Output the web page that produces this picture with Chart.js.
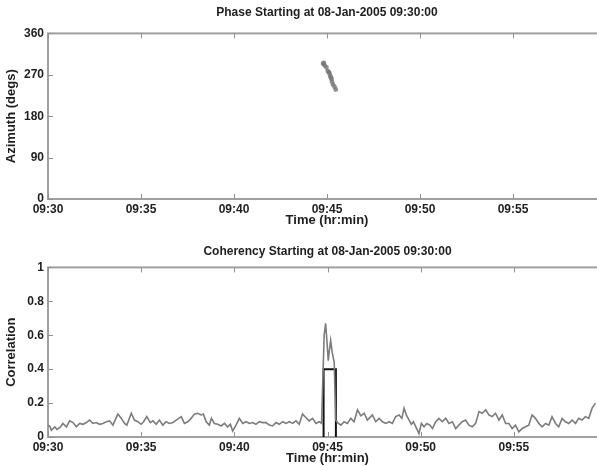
<!DOCTYPE html>
<html>
<head>
<meta charset="utf-8">
<script src="https://cdn.jsdelivr.net/npm/chart.js@4.4.1/dist/chart.umd.min.js"></script>
<style>
body { margin: 0; width: 597px; height: 466px; overflow: hidden; background: #fff; }
canvas { position: absolute; left: 0; }
</style>
</head>
<body>
<canvas id="phaseChart" width="610" height="233" style="top:0px"></canvas>
<canvas id="cohChart" width="610" height="233" style="top:233px"></canvas>
<script>
// Time axis (minutes after 09:30)
var timeTicks = [0, 5, 10, 15, 20, 25, 30];
var timeLabels = ['09:30', '09:35', '09:40', '09:45', '09:50', '09:55', ''];

// Phase (azimuth) points
var phaseTimes = [14.79, 14.83, 14.88, 14.97, 15.04, 15.10, 15.13, 15.18, 15.21, 15.24, 15.27, 15.32, 15.40, 15.47];
var phaseAzimuth = [294, 296, 290, 286, 278, 276, 273, 267, 264, 261, 255, 249, 244, 238];

// Coherency trace
var cohTimes = [0, 0.09, 0.18, 0.36, 0.48, 0.63, 0.80, 0.99, 1.16, 1.34, 1.52, 1.70, 1.88, 2.06, 2.23, 2.41, 2.59, 2.77, 2.95, 3.13,
  3.31, 3.48, 3.75, 3.93, 4.11, 4.23, 4.47, 4.64, 4.82, 5.00, 5.13, 5.30, 5.49, 5.63, 5.81, 5.98, 6.16, 6.34, 6.52, 6.70,
  6.88, 7.15, 7.32, 7.50, 7.68, 7.86, 8.04, 8.22, 8.34, 8.49, 8.66, 8.77, 8.93, 9.11, 9.29, 9.47, 9.64, 9.79, 9.91, 10.09,
  10.27, 10.45, 10.63, 10.81, 10.98, 11.16, 11.34, 11.52, 11.70, 11.88, 12.05, 12.24, 12.41, 12.59, 12.77, 12.95, 13.13, 13.31, 13.48, 13.66,
  13.84, 14.02, 14.20, 14.38, 14.56, 14.68, 14.82, 14.90, 14.98, 15.04, 15.09, 15.17, 15.25, 15.36, 15.44, 15.54, 15.72, 15.89, 16.07, 16.25,
  16.43, 16.61, 16.79, 16.97, 17.14, 17.32, 17.41, 17.59, 17.77, 17.95, 18.13, 18.31, 18.48, 18.66, 18.84, 18.99, 19.11, 19.23, 19.38, 19.50,
  19.61, 19.74, 19.91, 20.04, 20.18, 20.33, 20.49, 20.63, 20.81, 20.98, 21.16, 21.34, 21.52, 21.70, 21.88, 22.05, 22.23, 22.41, 22.59, 22.77,
  22.95, 23.13, 23.30, 23.49, 23.66, 23.84, 24.02, 24.20, 24.38, 24.56, 24.73, 24.91, 25.09, 25.27, 25.45, 25.63, 25.80, 25.98, 26.16, 26.34,
  26.52, 26.70, 26.88, 27.05, 27.24, 27.41, 27.59, 27.77, 27.95, 28.13, 28.31, 28.48, 28.66, 28.84, 29.02, 29.20, 29.38];
var cohValues = [0.07, 0.065, 0.04, 0.06, 0.045, 0.055, 0.08, 0.06, 0.095, 0.085, 0.06, 0.08, 0.075, 0.085, 0.10, 0.08, 0.085, 0.075, 0.08, 0.09,
  0.095, 0.07, 0.135, 0.11, 0.08, 0.07, 0.14, 0.10, 0.09, 0.075, 0.09, 0.12, 0.085, 0.095, 0.075, 0.10, 0.07, 0.09, 0.08, 0.085,
  0.10, 0.12, 0.08, 0.09, 0.11, 0.135, 0.14, 0.13, 0.135, 0.09, 0.07, 0.11, 0.08, 0.075, 0.065, 0.08, 0.06, 0.075, 0.035, 0.07,
  0.11, 0.08, 0.09, 0.08, 0.085, 0.075, 0.09, 0.085, 0.085, 0.07, 0.065, 0.085, 0.075, 0.09, 0.08, 0.09, 0.08, 0.095, 0.075, 0.135,
  0.115, 0.095, 0.11, 0.08, 0.09, 0.08, 0.60, 0.67, 0.55, 0.45, 0.50, 0.57, 0.50, 0.44, 0.10, 0.085, 0.07, 0.09, 0.08, 0.11,
  0.09, 0.16, 0.125, 0.14, 0.10, 0.12, 0.13, 0.09, 0.11, 0.09, 0.08, 0.09, 0.08, 0.12, 0.13, 0.11, 0.17, 0.13, 0.10, 0.075,
  0.09, 0.06, 0.02, 0.08, 0.06, 0.08, 0.07, 0.05, 0.09, 0.11, 0.09, 0.11, 0.08, 0.09, 0.05, 0.07, 0.09, 0.10, 0.07, 0.06,
  0.08, 0.15, 0.14, 0.16, 0.13, 0.12, 0.14, 0.10, 0.13, 0.08, 0.08, 0.05, 0.07, 0.03, 0.05, 0.06, 0.07, 0.13, 0.11, 0.08,
  0.06, 0.08, 0.07, 0.12, 0.08, 0.06, 0.11, 0.09, 0.08, 0.10, 0.08, 0.11, 0.10, 0.12, 0.11, 0.17, 0.20];

// Detection window (black box)
var boxTimes = [14.79, 14.79, 15.45, 15.45];
var boxValues = [0, 0.4, 0.4, 0];

var fontFamily = "'Liberation Sans', Arial, sans-serif";
var textColor = '#1e1e1e';
var titleFont = { family: fontFamily, size: 12, weight: 'bold' };
var labelFont = { family: fontFamily, size: 13, weight: 'bold' };
var tickFont = { family: fontFamily, size: 12, weight: 'bold' };

function toPoints(xs, ys) {
  return xs.map(function (x, i) { return { x: x, y: ys[i] }; });
}

// Matlab style box with inward tick marks
var framePlugin = {
  id: 'frame',
  beforeDatasetsDraw: function (chart) {
    var ctx = chart.ctx, a = chart.chartArea, sx = chart.scales.x, sy = chart.scales.y;
    ctx.save();
    ctx.strokeStyle = '#a0a0a0';
    ctx.lineWidth = 2;
    ctx.strokeRect(a.left, a.top, a.right - a.left, a.bottom - a.top);
    ctx.lineWidth = 1;
    ctx.strokeStyle = '#909090';
    ctx.beginPath();
    sx.ticks.forEach(function (t) {
      var px = Math.round(sx.getPixelForValue(t.value)) + 0.5;
      ctx.moveTo(px, a.bottom); ctx.lineTo(px, a.bottom - 5);
      ctx.moveTo(px, a.top); ctx.lineTo(px, a.top + 5);
    });
    sy.ticks.forEach(function (t) {
      var py = Math.round(sy.getPixelForValue(t.value)) + 0.5;
      ctx.moveTo(a.left, py); ctx.lineTo(a.left + 5, py);
      ctx.moveTo(a.right, py); ctx.lineTo(a.right - 5, py);
    });
    ctx.stroke();
    ctx.restore();
  }
};

function timeAxis(height, titleBottom) {
  return {
    type: 'linear', min: 0, max: 30,
    afterFit: function (s) { s.height = height; },
    afterBuildTicks: function (s) { s.ticks = timeTicks.map(function (v) { return { value: v }; }); },
    grid: { display: false, drawTicks: false },
    border: { display: false },
    ticks: {
      autoSkip: false, maxRotation: 0, padding: 3, color: textColor, font: tickFont,
      callback: function (v) { return timeLabels[timeTicks.indexOf(v)]; }
    },
    title: { display: true, text: 'Time (hr:min)', color: textColor, font: labelFont, padding: { top: 0, bottom: titleBottom } }
  };
}

function valueAxis(min, max, step, text) {
  return {
    min: min, max: max,
    afterFit: function (s) { s.width = 48; },
    grid: { display: false, drawTicks: false },
    border: { display: false },
    ticks: {
      stepSize: step, padding: 4, color: textColor, font: tickFont,
      callback: function (v) { return String(Math.round(v * 10) / 10); }
    },
    title: { display: true, text: text, color: textColor, font: labelFont, padding: { top: 4, bottom: 2 } }
  };
}

function titleOpts(text, top, bottom) {
  return { display: true, text: text, fullSize: false, color: textColor, font: titleFont, padding: { top: top, bottom: bottom } };
}

// Phase chart
new Chart(document.getElementById('phaseChart'), {
  type: 'scatter',
  data: {
    datasets: [{
      data: toPoints(phaseTimes, phaseAzimuth),
      pointRadius: 2.4,
      pointBorderWidth: 0,
      pointBackgroundColor: 'rgba(118,118,118,0.8)'
    }]
  },
  options: {
    responsive: false, animation: false,
    layout: { padding: { left: 0, right: 2, top: 0, bottom: 0 } },
    plugins: {
      legend: { display: false }, tooltip: { enabled: false },
      title: titleOpts('Phase Starting at 08-Jan-2005 09:30:00', 5, 14)
    },
    scales: {
      x: timeAxis(34, 5),
      y: valueAxis(0, 360, 90, 'Azimuth (degs)')
    }
  },
  plugins: [framePlugin]
});

// Coherency chart
new Chart(document.getElementById('cohChart'), {
  type: 'line',
  data: {
    datasets: [{
      data: toPoints(cohTimes, cohValues),
      borderColor: '#7c7c7c',
      borderWidth: 1.6,
      pointRadius: 0,
      tension: 0
    }, {
      data: toPoints(boxTimes, boxValues),
      borderColor: '#111',
      borderWidth: 2,
      pointRadius: 0,
      tension: 0
    }]
  },
  options: {
    responsive: false, animation: false,
    layout: { padding: { left: 0, right: 2, top: 0, bottom: 0 } },
    plugins: {
      legend: { display: false }, tooltip: { enabled: false },
      title: titleOpts('Coherency Starting at 08-Jan-2005 09:30:00', 11, 9)
    },
    scales: {
      x: timeAxis(29, 0),
      y: valueAxis(0, 1, 0.2, 'Correlation')
    }
  },
  plugins: [framePlugin]
});
</script>
</body>
</html>
